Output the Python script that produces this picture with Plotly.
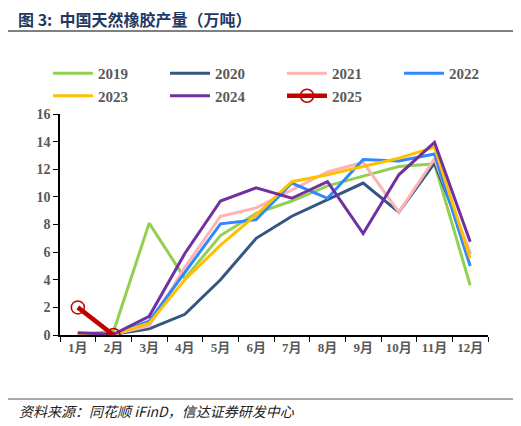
import plotly.graph_objects as go

months = ["1月", "2月", "3月", "4月", "5月", "6月", "7月", "8月", "9月", "10月", "11月", "12月"]
y2019 = [0.05, 0.25, 8.1, 4.1, 7.2, 8.8, 9.7, 10.8, 11.5, 12.2, 12.4, 3.6]
y2020 = [0.05, 0.05, 0.45, 1.5, 4.0, 7.0, 8.6, 9.8, 11.0, 8.9, 12.45, 5.9]
y2021 = [0.05, 0.05, 0.65, 4.9, 8.6, 9.2, 10.5, 11.8, 12.5, 8.9, 12.75, 5.9]
y2022 = [0.03, 0.03, 1.0, 4.5, 8.05, 8.35, 11.0, 9.9, 12.7, 12.6, 13.1, 5.0]
y2023 = [0.1, 0.05, 0.85, 4.0, 6.5, 8.7, 11.1, 11.6, 12.2, 12.8, 13.6, 5.55]
y2024 = [0.17, 0.05, 1.35, 5.9, 9.7, 10.65, 9.9, 11.1, 7.35, 11.6, 13.95, 6.75]
y2025 = [2.0, 0.0]
y_ticks = [0, 2, 4, 6, 8, 10, 12, 14, 16]

series = [
    ("2019", y2019, "#92D050"),
    ("2020", y2020, "#335782"),
    ("2021", y2021, "#FFB3B3"),
    ("2022", y2022, "#2F88FF"),
    ("2023", y2023, "#FFC000"),
    ("2024", y2024, "#7030A0"),
]

W, H = 521, 426
OFF = 8  # page body margin
L, T, PW, PH = 52, 106, 428, 221


def px(X):
    return (X - OFF - L) / PW


def py(Y):
    return 1 - (Y - OFF - T) / PH


fig = go.Figure()
for name, vals, col in series:
    fig.add_trace(go.Scatter(x=months[:len(vals)], y=vals, name=name, mode="lines",
                             line=dict(color=col, width=3)))
fig.add_trace(go.Scatter(x=months[:len(y2025)], y=y2025, name="2025", mode="lines+markers",
                         line=dict(color="#C00000", width=4.5),
                         marker=dict(symbol="circle-open", size=13, color="#C00000",
                                     line=dict(width=1.5, color="#C00000"))))

tickfont = dict(family="Liberation Serif, Noto Sans CJK SC", size=14, color="#595959", weight="bold")

fig.update_layout(
    width=W, height=H,
    margin=dict(l=L, r=W - L - PW, t=T, b=H - T - PH, autoexpand=False),
    paper_bgcolor="white", plot_bgcolor="white",
    showlegend=True,
    legend=dict(orientation="h", xref="paper", yref="paper",
                x=px(48), y=py(57), xanchor="left", yanchor="top",
                entrywidth=62, entrywidthmode="pixels",
                font=dict(family="Liberation Serif", size=15, color="#595959", weight="bold"),
                itemwidth=40, tracegroupgap=0, bgcolor="rgba(0,0,0,0)"),
    xaxis=dict(type="category", categoryarray=months, range=[-0.5, len(months) - 0.5],
               showline=True, linecolor="black", linewidth=1.5,
               ticks="outside", tickson="boundaries", ticklen=5, tickcolor="black",
               tickfont=dict(family="Liberation Serif, Noto Sans CJK SC", size=13, color="#595959", weight="bold"),
               showgrid=False, zeroline=False),
    yaxis=dict(range=[0, 16], tickvals=y_ticks, showline=True, linecolor="black", linewidth=1.5,
               ticks="outside", ticklen=5, tickcolor="black", tickfont=tickfont,
               showgrid=False, zeroline=False),
)

fig.add_annotation(text="图 3:  中国天然橡胶产量（万吨）", xref="paper", yref="paper",
                   x=px(16), y=py(18.5), xanchor="left", yanchor="middle",
                   showarrow=False,
                   font=dict(family="Noto Sans CJK SC", size=16, color="#1F3864", weight="bold"))
fig.add_annotation(text="资料来源：同花顺 iFinD，信达证券研发中心", xref="paper", yref="paper",
                   x=px(17), y=py(411), xanchor="left", yanchor="middle",
                   showarrow=False,
                   font=dict(family="Noto Sans CJK SC", size=14, color="#222222", style="italic"))
fig.add_shape(type="line", xref="paper", yref="paper",
              x0=px(5), x1=px(515), y0=py(31), y1=py(31),
              line=dict(color="#808080", width=2))
fig.add_shape(type="line", xref="paper", yref="paper",
              x0=px(5), x1=px(515), y0=py(399), y1=py(399),
              line=dict(color="#555555", width=1))

fig.write_html("out.html")
